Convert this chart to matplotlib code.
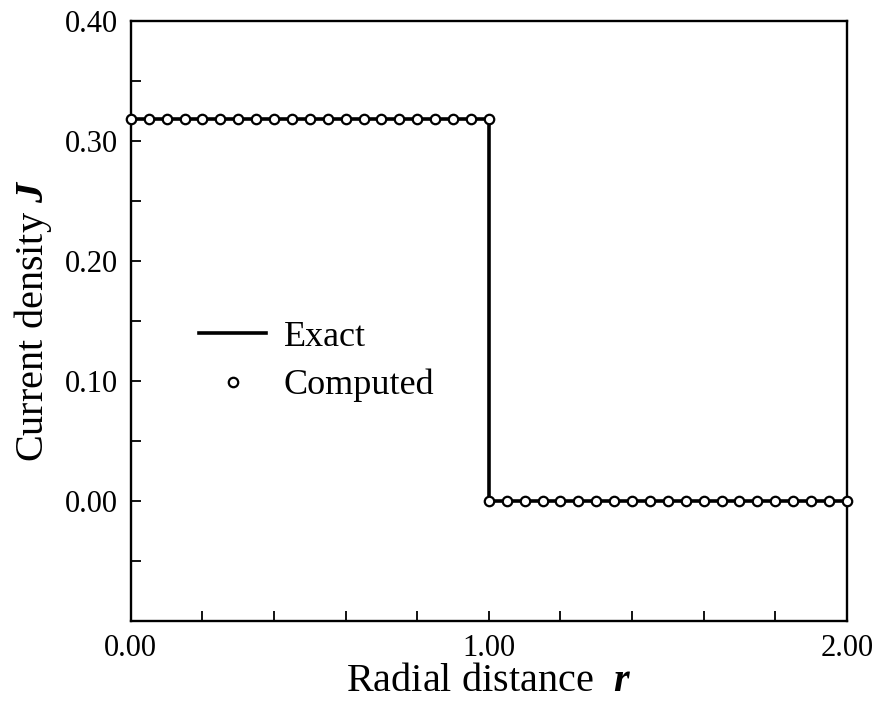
import matplotlib
matplotlib.use("Agg")
import matplotlib.pyplot as plt
from matplotlib.ticker import MultipleLocator, FixedLocator, FixedFormatter

plt.rcParams['font.family'] = ['Liberation Serif', 'DejaVu Serif']
plt.rcParams['mathtext.fontset'] = 'custom'
plt.rcParams['mathtext.rm'] = 'Liberation Serif'
plt.rcParams['mathtext.bf'] = 'Liberation Serif:italic:bold'

# exact solution (step)
exact_r = [0.0, 1.0, 1.0, 2.0]
exact_J = [0.318, 0.318, 0.0, 0.0]

# computed points
comp_r_in = [0.00, 0.05, 0.10, 0.15, 0.20, 0.25, 0.30, 0.35, 0.40, 0.45, 0.50,
             0.55, 0.60, 0.65, 0.70, 0.75, 0.80, 0.85, 0.90, 0.95, 1.00]
comp_J_in = [0.318, 0.318, 0.318, 0.318, 0.318, 0.318, 0.318, 0.318, 0.318, 0.318, 0.318,
             0.318, 0.318, 0.318, 0.318, 0.318, 0.318, 0.318, 0.318, 0.318, 0.318]
comp_r_out = [1.00, 1.05, 1.10, 1.15, 1.20, 1.25, 1.30, 1.35, 1.40, 1.45, 1.50,
              1.55, 1.60, 1.65, 1.70, 1.75, 1.80, 1.85, 1.90, 1.95, 2.00]
comp_J_out = [0.0, 0.0, 0.0, 0.0, 0.0, 0.0, 0.0, 0.0, 0.0, 0.0, 0.0,
              0.0, 0.0, 0.0, 0.0, 0.0, 0.0, 0.0, 0.0, 0.0, 0.0]

xtick_vals = [0.0, 1.0, 2.0]
xtick_labels = ["0.00", "1.00", "2.00"]
ytick_vals = [0.0, 0.1, 0.2, 0.3, 0.4]
ytick_labels = ["0.00", "0.10", "0.20", "0.30", "0.40"]

fig = plt.figure(figsize=(8.84, 7.07), dpi=100)
ax = fig.add_axes([0.148, 0.121, 0.810, 0.850])

ax.plot(exact_r, exact_J, color='black', lw=2.6, label='Exact', zorder=2)
ax.plot(comp_r_in + comp_r_out, comp_J_in + comp_J_out, ls='none', marker='o',
        ms=6.8, mfc='white', mec='black', mew=1.6, label='Computed', zorder=3, clip_on=False)

ax.set_xlim(0, 2)
ax.set_ylim(-0.1, 0.4)

# ticks: every 0.2 on x (labels only at 0, 1, 2), every 0.05 on y
ax.xaxis.set_major_locator(FixedLocator(xtick_vals))
ax.xaxis.set_major_formatter(FixedFormatter(xtick_labels))
ax.xaxis.set_minor_locator(MultipleLocator(0.2))
ax.yaxis.set_major_locator(FixedLocator(ytick_vals))
ax.yaxis.set_major_formatter(FixedFormatter(ytick_labels))
ax.yaxis.set_minor_locator(MultipleLocator(0.05))
ax.tick_params(which='both', direction='in', length=7, width=1.3, top=False, right=False,
               labelsize=22)
ax.tick_params(axis='x', pad=9)
ax.tick_params(axis='y', pad=9)

for s in ax.spines.values():
    s.set_linewidth(1.7)

ax.set_xlabel(r'Radial distance  $\mathbf{r}$', fontsize=29, labelpad=0)
ax.set_ylabel(r'Current density $\mathbf{J}$', fontsize=29, labelpad=8)

ax.legend(loc='center left', bbox_to_anchor=(0.05, 0.433), frameon=False,
          fontsize=26, handlelength=1.85, handletextpad=0.5, labelspacing=0.42,
          numpoints=1)

fig.savefig('out.png', dpi=100)
